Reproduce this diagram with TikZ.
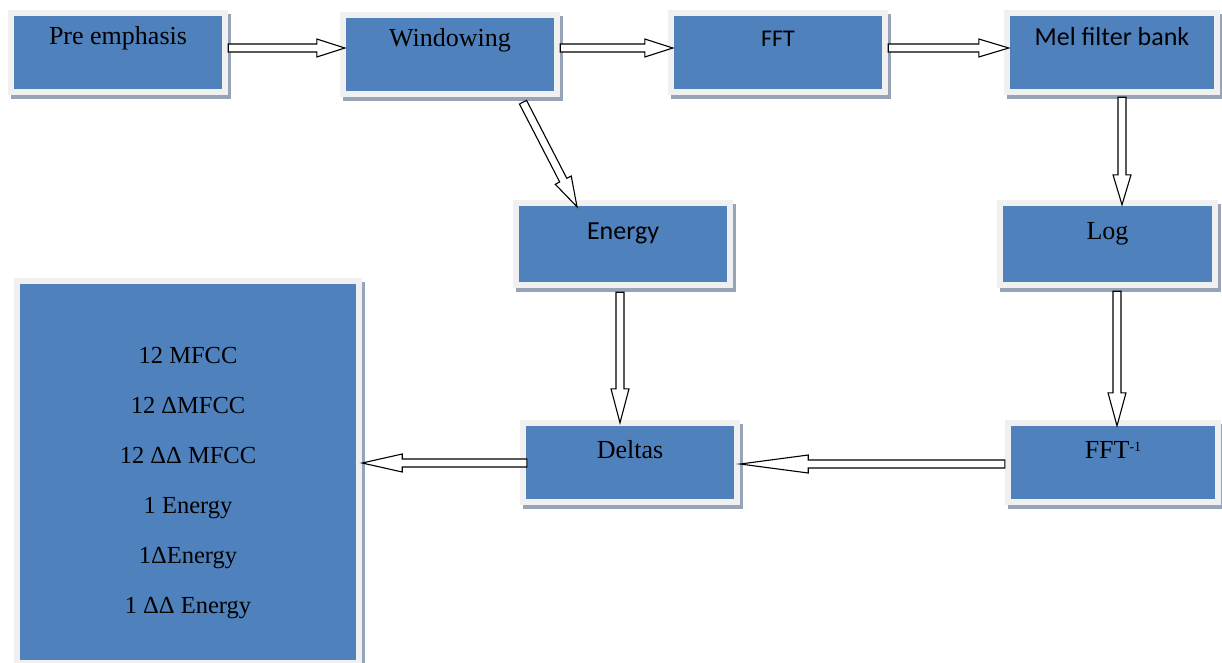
\documentclass[tikz,border=0pt]{standalone}
\usepackage{fontspec}
\setmainfont{Liberation Serif}
\newfontfamily\calib{Carlito}
\usetikzlibrary{calc,shadows}
\definecolor{boxblue}{HTML}{4F81BD}
\definecolor{framec}{HTML}{F0F0F0}
\definecolor{shadowc}{HTML}{97A3B6}
\def\bahl{30pt}
\tikzset{
  headlen/.code={\def\bahl{#1}},
  blockarrow/.style={to path={
    let \p1=(\tikztostart), \p2=(\tikztotarget),
        \n1={atan2(\y2-\y1,\x2-\x1)},
        \n3={veclen(\x2-\x1,\y2-\y1)-\bahl}
    in ($(\p1)+(\n1+90:4pt)$)
       -- ($(\p1)+(\n1+90:4pt)+(\n1:\n3)$)
       -- ($(\p1)+(\n1+90:9pt)+(\n1:\n3)$)
       -- (\p2)
       -- ($(\p1)+(\n1-90:9pt)+(\n1:\n3)$)
       -- ($(\p1)+(\n1-90:4pt)+(\n1:\n3)$)
       -- ($(\p1)+(\n1-90:4pt)$) -- cycle}},
  barrow/.style={draw=black, fill=white, line width=1.1pt, line join=miter},
  boxbase/.style={rectangle, fill=framec, minimum width=220pt, minimum height=85pt, inner sep=0pt,
     path picture={\fill[boxblue] ([shift={(6pt,-6pt)}]path picture bounding box.north west)
        rectangle ([shift={(-6pt,6pt)}]path picture bounding box.south east);},
     drop shadow={shadow xshift=3pt,shadow yshift=-4pt,fill=shadowc,opacity=1}},
  box/.style={boxbase, font=\fontsize{26}{30}\selectfont, text height=16pt, text depth=33pt},
  sansbox/.style={box, font=\calib\fontsize{25}{30}\selectfont}
}
\begin{document}
\begin{tikzpicture}[x=1pt,y=-1pt]
\useasboundingbox (0,0) rectangle (1222,662);
\node[box, text depth=33pt] (pre) at (118,52.5) {Pre emphasis};
\node[box, text depth=33pt] (win) at (450,54.5) {Windowing};
\node[sansbox, font=\calib\fontsize{24}{28}\selectfont, text depth=29pt] (fft) at (778,52.5) {FFT};
\node[sansbox, minimum width=216pt, font=\calib\fontsize{26}{30}\selectfont, text depth=31pt] (mel) at (1112,52.5) {Mel filter bank};
\node[sansbox, minimum height=88pt, font=\calib\fontsize{26}{30}\selectfont, text depth=25pt] (energy) at (623,244) {Energy};
\node[box, minimum height=88pt, minimum width=221pt, text depth=25pt] (log) at (1107.5,244) {Log};
\node[box, minimum width=216pt, text depth=25pt] (fftinv) at (1113,462.5)
  {FFT\raisebox{7pt}{\fontsize{14}{14}\selectfont -1}};
\node[box, text depth=25pt] (deltas) at (630,462.5) {Deltas};
\node[boxbase, minimum width=348pt, minimum height=388pt, align=center,
      font=\fontsize{24.5}{50}\selectfont] (big) at (188,472)
  {\rule{0pt}{38pt}12 MFCC\\12 ΔMFCC\\12 ΔΔ MFCC\\1 Energy\\1ΔEnergy\\1 ΔΔ Energy};

\draw[barrow] (pre.east |- 0,48) to[headlen=28pt, blockarrow] ($(win.west |- 0,48)+(5,0)$);
\draw[barrow] (win.east |- 0,48) to[headlen=28pt, blockarrow] ($(fft.west |- 0,48)+(5,0)$);
\draw[barrow] (fft.east |- 0,48) to[headlen=30pt, blockarrow] ($(mel.west |- 0,48)+(5,0)$);
\draw[barrow] ($(win.south -| 523,0)+(0,5)$) to[headlen=30pt, blockarrow] ($(energy.north -| 577,0)+(0,7)$);
\draw[barrow] ($(mel.south -| 1122,0)+(0,2)$) to[headlen=30pt, blockarrow] ($(log.north -| 1122,0)+(0,5)$);
\draw[barrow] ($(log.south -| 1117,0)+(0,3)$) to[headlen=33pt, blockarrow] ($(fftinv.north -| 1117,0)+(0,6)$);
\draw[barrow] ($(energy.south -| 620,0)+(0,4)$) to[headlen=34pt, blockarrow] ($(deltas.north -| 620,0)+(0,3)$);
\draw[barrow] (fftinv.west |- 0,464) to[headlen=68pt, blockarrow] (deltas.east |- 0,464);
\draw[barrow] ($(deltas.west |- 0,463)+(7,0)$) to[headlen=40pt, blockarrow] (big.east |- 0,463);
\end{tikzpicture}
\end{document}
